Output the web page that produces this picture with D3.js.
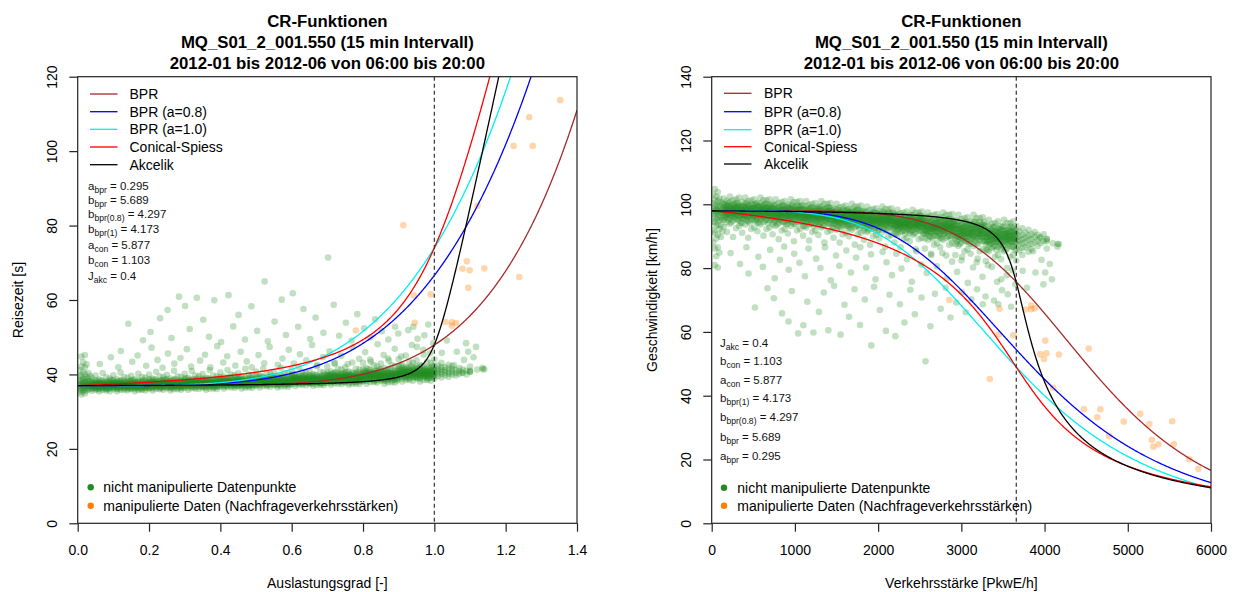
<!DOCTYPE html>
<html>
<head>
<meta charset="utf-8">
<script src="https://cdn.jsdelivr.net/npm/d3@7"></script>
<style>
  html, body { margin: 0; padding: 0; background: #fff; }
  svg { display: block; font-family: "Liberation Sans", Arial, sans-serif; }
</style>
</head>
<body>
<svg id="chart" width="1236" height="592"></svg>
<script>
// ---------------- Titel und Achsen ----------------
const titelZeilen = [
  "CR-Funktionen",
  "MQ_S01_2_001.550 (15 min Intervall)",
  "2012-01 bis 2012-06 von 06:00 bis 20:00"
];
const auslastungTicks = [0, 0.2, 0.4, 0.6, 0.8, 1.0, 1.2, 1.4];
const reisezeitTicks = [0, 20, 40, 60, 80, 100, 120];
const verkehrsstaerkeTicks = [0, 1000, 2000, 3000, 4000, 5000, 6000];
const geschwindigkeitTicks = [0, 20, 40, 60, 80, 100, 120, 140];

// ---------------- Modellparameter ----------------
const aBpr = 0.295, bBpr = 5.689, bBpr08 = 4.297, bBpr1 = 4.173;
const aCon = 5.877, bCon = 1.103, jAkc = 0.4;
const t0 = 37;              // freie Reisezeit [s]
const kapazitaet = 3660;    // [PkwE/h]
const laengeKm = 1.007;     // Abschnittslaenge [km]
const akcT = 0.25;          // Analysedauer [h]
const akcQT = 1340;         // Kapazitaet x Dauer [PkwE]

const kurvenNamen = ["BPR", "BPR (a=0.8)", "BPR (a=1.0)", "Conical-Spiess", "Akcelik"];
const kurvenFarben = ["#a52a2a", "#0000ff", "#00f0f0", "#ff0000", "#000000"];

const parameterZeilen = [
  ["a", "bpr", "0.295"],
  ["b", "bpr", "5.689"],
  ["b", "bpr(0.8)", "4.297"],
  ["b", "bpr(1)", "4.173"],
  ["a", "con", "5.877"],
  ["b", "con", "1.103"],
  ["J", "akc", "0.4"]
];
const punktLegende = ["nicht manipulierte Datenpunkte", "manipulierte Daten (Nachfrageverkehrsstärken)"];
const punktFarben = ["#228b22", "#ff8000"];

// ---------------- Messwerte: Auslastungsgrad [-], Reisezeit [s] ----------------
// dichte Spalten: [Auslastungsgrad, Reisezeiten ...]
const gruenBand = [
  [0.005, 35.2, 36.1, 36.8, 37.4, 38.3, 39.5, 41.2],
  [0.010, 34.6, 35.8, 36.5, 37.0, 37.6, 38.4, 39.8, 42.1, 44.8],
  [0.015, 35.4, 36.3, 36.9, 37.3, 38.0, 38.9, 40.6, 43.3],
  [0.020, 34.9, 35.9, 36.6, 37.1, 37.8, 38.7, 40.1, 41.9, 45.2],
  [0.025, 35.6, 36.4, 37.0, 37.5, 38.2, 39.3, 42.7],
  [0.030, 36.0, 36.7, 37.2, 37.9, 38.8, 40.4],
  [0.035, 36.2, 36.9, 37.3, 38.1, 39.6],
  [0.04, 35.6, 36.2, 36.6, 36.9, 37.2, 37.6, 38.1, 39.0],
  [0.05, 35.9, 36.4, 36.8, 37.1, 37.4, 37.8, 38.4, 39.7],
  [0.06, 35.4, 36.0, 36.5, 36.8, 37.1, 37.5, 37.9, 38.6],
  [0.07, 35.8, 36.3, 36.7, 37.0, 37.3, 37.7, 38.2, 40.4],
  [0.08, 35.7, 36.1, 36.6, 36.9, 37.2, 37.5, 38.0, 39.2],
  [0.09, 35.5, 36.3, 36.6, 37.0, 37.2, 37.7, 38.2, 38.9],
  [0.10, 36.0, 36.5, 36.9, 37.2, 37.5, 37.9, 38.5, 39.8],
  [0.11, 35.5, 36.1, 36.6, 36.9, 37.2, 37.6, 38.0, 38.7],
  [0.12, 35.9, 36.4, 36.8, 37.1, 37.4, 37.8, 38.3, 40.5],
  [0.13, 35.8, 36.2, 36.7, 37.0, 37.3, 37.6, 38.1, 39.3],
  [0.14, 35.7, 36.3, 36.7, 37.0, 37.3, 37.7, 38.2, 39.1],
  [0.15, 36.1, 36.4, 36.9, 37.3, 37.5, 38.0, 38.4, 39.6],
  [0.16, 35.5, 36.1, 36.6, 36.9, 37.2, 37.6, 38.0, 38.7],
  [0.17, 35.8, 36.4, 36.8, 37.1, 37.4, 37.8, 38.4, 40.2],
  [0.18, 35.8, 36.2, 36.7, 37.0, 37.3, 37.6, 38.1, 39.3],
  [0.19, 35.7, 36.3, 36.7, 37.0, 37.3, 37.7, 38.2, 39.1],
  [0.20, 36.2, 36.7, 37.1, 37.4, 37.7, 38.1, 38.7, 40.0],
  [0.21, 35.7, 36.3, 36.8, 37.1, 37.4, 37.8, 38.2, 38.9],
  [0.22, 36.1, 36.6, 37.0, 37.3, 37.6, 38.0, 38.5, 40.7],
  [0.23, 36.0, 36.4, 36.9, 37.2, 37.5, 37.8, 38.3, 39.5],
  [0.24, 35.9, 36.5, 36.9, 37.2, 37.5, 37.9, 38.4, 39.3],
  [0.25, 36.3, 36.6, 37.1, 37.5, 37.7, 38.2, 38.6, 39.9],
  [0.26, 35.7, 36.3, 36.8, 37.1, 37.4, 37.8, 38.2, 38.9],
  [0.27, 36.0, 36.6, 37.0, 37.3, 37.6, 38.0, 38.6, 41.0],
  [0.28, 36.0, 36.4, 36.9, 37.2, 37.5, 37.8, 38.3, 39.5],
  [0.29, 35.9, 36.5, 36.9, 37.2, 37.5, 37.9, 38.4, 39.3],
  [0.30, 36.4, 36.9, 37.3, 37.6, 37.9, 38.3, 38.9, 40.2],
  [0.31, 35.9, 36.5, 37.0, 37.3, 37.6, 38.0, 38.4, 39.1],
  [0.32, 36.3, 36.8, 37.2, 37.5, 37.8, 38.2, 38.7, 40.9],
  [0.33, 36.2, 36.6, 37.1, 37.4, 37.7, 38.0, 38.5, 39.7],
  [0.34, 36.1, 36.7, 37.1, 37.4, 37.7, 38.1, 38.6, 39.5],
  [0.35, 36.5, 36.8, 37.3, 37.7, 37.9, 38.4, 38.8, 40.1],
  [0.36, 35.9, 36.5, 37.0, 37.3, 37.6, 38.0, 38.4, 39.1],
  [0.37, 36.2, 36.8, 37.2, 37.5, 37.8, 38.2, 38.8, 41.2],
  [0.38, 36.2, 36.6, 37.1, 37.4, 37.7, 38.0, 38.5, 39.7],
  [0.39, 36.1, 36.7, 37.1, 37.4, 37.7, 38.1, 38.6, 39.5],
  [0.40, 36.7, 37.2, 37.6, 37.9, 38.2, 38.6, 39.2, 40.5],
  [0.41, 36.2, 36.8, 37.3, 37.6, 37.9, 38.3, 38.7, 39.4],
  [0.42, 36.6, 37.1, 37.5, 37.8, 38.1, 38.5, 39.0, 41.2],
  [0.43, 36.5, 36.9, 37.4, 37.7, 38.0, 38.3, 38.8, 40.0],
  [0.44, 36.4, 37.0, 37.4, 37.7, 38.0, 38.4, 38.9, 39.8],
  [0.45, 36.8, 37.1, 37.6, 38.0, 38.2, 38.7, 39.1, 40.3],
  [0.46, 36.2, 36.8, 37.3, 37.6, 37.9, 38.3, 38.7, 39.4],
  [0.47, 36.5, 37.1, 37.5, 37.8, 38.1, 38.5, 39.1, 41.5],
  [0.48, 36.5, 36.9, 37.4, 37.7, 38.0, 38.3, 38.8, 40.0],
  [0.49, 36.4, 37.0, 37.4, 37.7, 38.0, 38.4, 38.9, 39.8],
  [0.50, 37.0, 37.5, 37.9, 38.2, 38.5, 38.9, 39.5, 40.8],
  [0.51, 36.5, 37.1, 37.6, 37.9, 38.2, 38.6, 39.0, 39.7],
  [0.52, 36.9, 37.4, 37.8, 38.1, 38.4, 38.8, 39.3, 41.5],
  [0.53, 36.8, 37.2, 37.7, 38.0, 38.3, 38.6, 39.1, 40.3],
  [0.54, 36.7, 37.3, 37.7, 38.0, 38.3, 38.7, 39.2, 40.1],
  [0.55, 37.1, 37.4, 37.9, 38.3, 38.5, 39.0, 39.4, 40.6],
  [0.56, 36.5, 37.1, 37.6, 37.9, 38.2, 38.6, 39.0, 39.7],
  [0.57, 36.8, 37.4, 37.8, 38.1, 38.4, 38.8, 39.4, 41.8],
  [0.58, 36.8, 37.2, 37.7, 38.0, 38.3, 38.6, 39.1, 40.3],
  [0.59, 36.7, 37.3, 37.7, 38.0, 38.3, 38.7, 39.2, 40.1],
  [0.60, 37.4, 37.9, 38.3, 38.6, 38.9, 39.3, 39.9, 41.2],
  [0.61, 36.9, 37.5, 38.0, 38.3, 38.6, 39.0, 39.4, 40.1],
  [0.62, 37.3, 37.8, 38.2, 38.5, 38.8, 39.2, 39.7, 41.9],
  [0.63, 37.2, 37.6, 38.1, 38.4, 38.7, 39.0, 39.5, 40.7],
  [0.64, 37.1, 37.7, 38.1, 38.4, 38.7, 39.1, 39.6, 40.5],
  [0.65, 37.5, 37.8, 38.3, 38.7, 38.9, 39.4, 39.8, 41.0],
  [0.66, 36.9, 37.5, 38.0, 38.3, 38.6, 39.0, 39.4, 40.1],
  [0.67, 37.2, 37.8, 38.2, 38.5, 38.8, 39.2, 39.8, 42.2],
  [0.68, 37.2, 37.6, 38.1, 38.4, 38.7, 39.0, 39.5, 40.7],
  [0.69, 37.1, 37.7, 38.1, 38.4, 38.7, 39.1, 39.6, 40.5],
  [0.70, 37.7, 38.3, 38.8, 39.1, 39.5, 39.9, 40.6, 42.1],
  [0.71, 37.2, 37.8, 38.4, 38.8, 39.1, 39.6, 40.0, 40.8],
  [0.72, 37.6, 38.2, 38.7, 39.0, 39.3, 39.8, 40.4, 42.9],
  [0.73, 37.5, 38.0, 38.5, 38.9, 39.2, 39.6, 40.2, 41.5],
  [0.74, 37.4, 38.1, 38.5, 38.9, 39.2, 39.7, 40.3, 41.3],
  [0.75, 37.8, 38.2, 38.8, 39.2, 39.4, 40.0, 40.5, 41.9],
  [0.76, 37.2, 37.8, 38.4, 38.8, 39.1, 39.6, 40.0, 40.8],
  [0.77, 37.5, 38.2, 38.7, 39.0, 39.3, 39.8, 40.5, 43.2],
  [0.78, 37.5, 38.0, 38.5, 38.9, 39.2, 39.6, 40.2, 41.5],
  [0.79, 37.4, 38.1, 38.5, 38.9, 39.2, 39.7, 40.3, 41.3],
  [0.80, 38.2, 38.8, 39.3, 39.7, 40.1, 40.6, 41.4, 43.1],
  [0.81, 37.5, 38.3, 38.9, 39.3, 39.7, 40.3, 40.8, 41.7],
  [0.82, 38.0, 38.7, 39.2, 39.6, 40.0, 40.5, 41.2, 44.0],
  [0.83, 37.9, 38.4, 39.1, 39.5, 39.9, 40.3, 40.9, 42.5],
  [0.84, 37.8, 38.6, 39.1, 39.5, 39.9, 40.4, 41.0, 42.2],
  [0.85, 38.3, 38.7, 39.3, 39.8, 40.0, 40.7, 41.3, 42.9],
  [0.86, 37.5, 38.3, 38.9, 39.3, 39.7, 40.3, 40.8, 41.7],
  [0.87, 37.9, 38.7, 39.2, 39.6, 40.0, 40.5, 41.3, 44.3],
  [0.88, 37.9, 38.4, 39.1, 39.5, 39.9, 40.3, 40.9, 42.5],
  [0.89, 37.8, 38.6, 39.1, 39.5, 39.9, 40.4, 41.0, 42.2],
  [0.90, 38.8, 39.5, 40.0, 40.4, 40.9, 41.4, 42.3, 44.1],
  [0.91, 38.1, 38.9, 39.6, 40.0, 40.4, 41.0, 41.6, 42.5],
  [0.92, 38.6, 39.3, 39.9, 40.3, 40.7, 41.3, 42.0, 45.1],
  [0.93, 38.5, 39.0, 39.7, 40.2, 40.6, 41.0, 41.7, 43.4],
  [0.94, 38.3, 39.2, 39.7, 40.2, 40.6, 41.1, 41.8, 43.1],
  [0.95, 38.9, 39.4, 40.1, 40.5, 40.8, 41.5, 42.2, 43.8],
  [0.96, 38.1, 38.9, 39.6, 40.0, 40.4, 41.0, 41.6, 42.5],
  [0.97, 38.5, 39.4, 39.9, 40.3, 40.7, 41.2, 42.1, 45.3],
  [0.98, 38.5, 39.0, 39.7, 40.2, 40.6, 41.0, 41.7, 43.4],
  [0.99, 38.3, 39.2, 39.7, 40.2, 40.6, 41.1, 41.8, 43.1],
  [1.00, 38.9, 39.5, 40.0, 40.5, 40.9, 41.4, 42.2, 44.0],
  [1.01, 39.6, 40.3, 40.9, 41.5, 42.4],
  [1.02, 39.2, 40.1, 40.7, 41.3, 42.0, 43.1],
  [1.03, 39.8, 40.5, 41.1, 41.9],
  [1.04, 39.4, 40.2, 40.8, 41.6, 42.6],
  [1.05, 40.0, 40.7, 41.4, 42.2],
  [1.06, 39.7, 40.4, 41.2],
  [1.07, 40.1, 40.9, 41.7],
  [1.08, 40.4, 41.3],
  [1.09, 40.0, 41.0],
  [1.10, 40.7, 42.1, 41.0],
  [1.12, 41.3],
  [1.135, 41.8],
  [1.14, 41.4]
];

// Kern des Bandes (zwischen den Spalten)
const gruenKern = [
  [0.045, 36.3, 36.6, 36.9, 37.1, 37.4, 37.8],
  [0.055, 36.1, 36.5, 36.8, 37.2, 37.5, 38.1],
  [0.065, 36.4, 36.7, 37.0, 37.3, 37.6, 38.4],
  [0.075, 36.3, 36.6, 36.9, 37.1, 37.4, 37.8],
  [0.085, 36.1, 36.5, 36.8, 37.2, 37.5, 38.1],
  [0.095, 36.5, 36.8, 37.1, 37.4, 37.7, 38.5],
  [0.105, 36.4, 36.7, 37.0, 37.2, 37.5, 37.9],
  [0.115, 36.2, 36.6, 36.9, 37.3, 37.6, 38.2],
  [0.125, 36.5, 36.8, 37.1, 37.4, 37.7, 38.5],
  [0.135, 36.4, 36.7, 37.0, 37.2, 37.5, 37.9],
  [0.145, 36.2, 36.6, 36.9, 37.3, 37.6, 38.2],
  [0.155, 36.5, 36.8, 37.1, 37.4, 37.7, 38.5],
  [0.165, 36.4, 36.7, 37.0, 37.2, 37.5, 37.9],
  [0.175, 36.2, 36.6, 36.9, 37.3, 37.6, 38.2],
  [0.185, 36.5, 36.8, 37.1, 37.4, 37.7, 38.5],
  [0.195, 36.4, 36.7, 37.0, 37.2, 37.5, 37.9],
  [0.205, 36.4, 36.8, 37.1, 37.5, 37.8, 38.4],
  [0.215, 36.7, 37.0, 37.3, 37.6, 37.9, 38.7],
  [0.225, 36.6, 36.9, 37.2, 37.4, 37.7, 38.1],
  [0.235, 36.4, 36.8, 37.1, 37.5, 37.8, 38.4],
  [0.245, 36.7, 37.0, 37.3, 37.6, 37.9, 38.7],
  [0.255, 36.6, 36.9, 37.2, 37.4, 37.7, 38.1],
  [0.265, 36.4, 36.8, 37.1, 37.5, 37.8, 38.4],
  [0.275, 36.7, 37.0, 37.3, 37.6, 37.9, 38.7],
  [0.285, 36.6, 36.9, 37.2, 37.4, 37.7, 38.1],
  [0.295, 36.4, 36.8, 37.1, 37.5, 37.8, 38.4],
  [0.305, 36.9, 37.2, 37.5, 37.8, 38.1, 38.9],
  [0.315, 36.8, 37.1, 37.4, 37.6, 37.9, 38.3],
  [0.325, 36.6, 37.0, 37.3, 37.7, 38.0, 38.6],
  [0.335, 36.9, 37.2, 37.5, 37.8, 38.1, 38.9],
  [0.345, 36.8, 37.1, 37.4, 37.6, 37.9, 38.3],
  [0.355, 36.6, 37.0, 37.3, 37.7, 38.0, 38.6],
  [0.365, 36.9, 37.2, 37.5, 37.8, 38.1, 38.9],
  [0.375, 36.8, 37.1, 37.4, 37.6, 37.9, 38.3],
  [0.385, 36.6, 37.0, 37.3, 37.7, 38.0, 38.6],
  [0.395, 36.9, 37.2, 37.5, 37.8, 38.1, 38.9],
  [0.405, 37.1, 37.4, 37.7, 37.9, 38.2, 38.6],
  [0.415, 36.9, 37.3, 37.6, 38.0, 38.3, 38.9],
  [0.425, 37.2, 37.5, 37.8, 38.1, 38.4, 39.2],
  [0.435, 37.1, 37.4, 37.7, 37.9, 38.2, 38.6],
  [0.445, 36.9, 37.3, 37.6, 38.0, 38.3, 38.9],
  [0.455, 37.2, 37.5, 37.8, 38.1, 38.4, 39.2],
  [0.465, 37.1, 37.4, 37.7, 37.9, 38.2, 38.6],
  [0.475, 36.9, 37.3, 37.6, 38.0, 38.3, 38.9],
  [0.485, 37.2, 37.5, 37.8, 38.1, 38.4, 39.2],
  [0.495, 37.1, 37.4, 37.7, 37.9, 38.2, 38.6],
  [0.505, 37.2, 37.6, 37.9, 38.3, 38.6, 39.2],
  [0.515, 37.5, 37.8, 38.1, 38.4, 38.7, 39.5],
  [0.525, 37.4, 37.7, 38.0, 38.2, 38.5, 38.9],
  [0.535, 37.2, 37.6, 37.9, 38.3, 38.6, 39.2],
  [0.545, 37.5, 37.8, 38.1, 38.4, 38.7, 39.5],
  [0.555, 37.4, 37.7, 38.0, 38.2, 38.5, 38.9],
  [0.565, 37.2, 37.6, 37.9, 38.3, 38.6, 39.2],
  [0.575, 37.5, 37.8, 38.1, 38.4, 38.7, 39.5],
  [0.585, 37.4, 37.7, 38.0, 38.2, 38.5, 38.9],
  [0.595, 37.2, 37.6, 37.9, 38.3, 38.6, 39.2],
  [0.605, 37.9, 38.2, 38.5, 38.8, 39.1, 39.9],
  [0.615, 37.8, 38.1, 38.4, 38.6, 38.9, 39.3],
  [0.625, 37.6, 38.0, 38.3, 38.7, 39.0, 39.6],
  [0.635, 37.9, 38.2, 38.5, 38.8, 39.1, 39.9],
  [0.645, 37.8, 38.1, 38.4, 38.6, 38.9, 39.3],
  [0.655, 37.6, 38.0, 38.3, 38.7, 39.0, 39.6],
  [0.665, 37.9, 38.2, 38.5, 38.8, 39.1, 39.9],
  [0.675, 37.8, 38.1, 38.4, 38.6, 38.9, 39.3],
  [0.685, 37.6, 38.0, 38.3, 38.7, 39.0, 39.6],
  [0.695, 37.9, 38.2, 38.5, 38.8, 39.1, 39.9],
  [0.705, 38.2, 38.5, 38.9, 39.1, 39.5, 39.9],
  [0.715, 38.0, 38.4, 38.8, 39.2, 39.6, 40.3],
  [0.725, 38.3, 38.7, 39.0, 39.3, 39.7, 40.6],
  [0.735, 38.2, 38.5, 38.9, 39.1, 39.5, 39.9],
  [0.745, 38.0, 38.4, 38.8, 39.2, 39.6, 40.3],
  [0.755, 38.3, 38.7, 39.0, 39.3, 39.7, 40.6],
  [0.765, 38.2, 38.5, 38.9, 39.1, 39.5, 39.9],
  [0.775, 38.0, 38.4, 38.8, 39.2, 39.6, 40.3],
  [0.785, 38.3, 38.7, 39.0, 39.3, 39.7, 40.6],
  [0.795, 38.2, 38.5, 38.9, 39.1, 39.5, 39.9],
  [0.805, 38.4, 38.9, 39.3, 39.9, 40.3, 41.0],
  [0.815, 38.8, 39.2, 39.6, 40.0, 40.4, 41.4],
  [0.825, 38.7, 39.1, 39.5, 39.7, 40.1, 40.6],
  [0.835, 38.4, 38.9, 39.3, 39.9, 40.3, 41.0],
  [0.845, 38.8, 39.2, 39.6, 40.0, 40.4, 41.4],
  [0.855, 38.7, 39.1, 39.5, 39.7, 40.1, 40.6],
  [0.865, 38.4, 38.9, 39.3, 39.9, 40.3, 41.0],
  [0.875, 38.8, 39.2, 39.6, 40.0, 40.4, 41.4],
  [0.885, 38.7, 39.1, 39.5, 39.7, 40.1, 40.6],
  [0.895, 38.4, 38.9, 39.3, 39.9, 40.3, 41.0],
  [0.905, 39.5, 39.9, 40.3, 40.7, 41.1, 42.3],
  [0.915, 39.3, 39.7, 40.2, 40.4, 40.9, 41.4],
  [0.925, 39.0, 39.6, 40.0, 40.6, 41.0, 41.8],
  [0.935, 39.5, 39.9, 40.3, 40.7, 41.1, 42.3],
  [0.945, 39.3, 39.7, 40.2, 40.4, 40.9, 41.4],
  [0.955, 39.0, 39.6, 40.0, 40.6, 41.0, 41.8],
  [0.965, 39.5, 39.9, 40.3, 40.7, 41.1, 42.3],
  [0.975, 39.3, 39.7, 40.2, 40.4, 40.9, 41.4],
  [0.985, 39.0, 39.6, 40.0, 40.6, 41.0, 41.8],
  [0.995, 39.5, 39.9, 40.3, 40.7, 41.1, 42.3]
];

// einzelne Streupunkte: [Auslastungsgrad, Reisezeit]
const gruenStreu = [
  [0.062, 42.8], [0.093, 44.6], [0.114, 41.9], [0.121, 46.3], [0.153, 43.4], [0.168, 45.1],
  [0.192, 42.3], [0.207, 47.2], [0.224, 43.9], [0.238, 41.8], [0.253, 45.6], [0.271, 42.9],
  [0.288, 44.4], [0.306, 46.8], [0.318, 42.1], [0.343, 43.7], [0.357, 45.3], [0.372, 41.9],
  [0.391, 47.6], [0.408, 43.2], [0.419, 44.9], [0.442, 42.4], [0.457, 46.1], [0.474, 43.5],
  [0.488, 41.9], [0.507, 45.2], [0.523, 43.0], [0.538, 47.4], [0.561, 42.6], [0.574, 44.3],
  [0.592, 46.6], [0.606, 42.9], [0.623, 45.4], [0.641, 43.8], [0.657, 47.9], [0.672, 42.5],
  [0.688, 44.7], [0.706, 46.2], [0.721, 43.1], [0.739, 45.0], [0.757, 42.8], [0.771, 47.3],
  [0.789, 44.2], [0.806, 46.0], [0.822, 43.4], [0.841, 48.1], [0.858, 45.2], [0.873, 43.7],
  [0.889, 46.9], [0.907, 44.8], [0.937, 47.9], [0.951, 47.4], [0.969, 46.6], [0.988, 45.7],
  [0.997, 48.4], [1.021, 45.8], [1.035, 49.1], [1.063, 46.1], [1.089, 48.4], [1.095, 46.1],
  [1.117, 47.4], [1.077, 40.5], [1.100, 40.7], [1.136, 41.4], [1.055, 42.5], [1.083, 43.9],
  [1.110, 44.6],
  [0.142, 53.6], [0.183, 49.2], [0.204, 51.4], [0.231, 55.1], [0.252, 57.3], [0.263, 49.8],
  [0.284, 60.9], [0.301, 58.4], [0.314, 52.2], [0.334, 60.6], [0.352, 54.7], [0.368, 50.1],
  [0.383, 59.9], [0.402, 48.7], [0.423, 61.3], [0.436, 52.9], [0.451, 56.0], [0.469, 49.4],
  [0.487, 58.3], [0.503, 51.7], [0.524, 65.0], [0.533, 48.9], [0.552, 54.2], [0.572, 60.1],
  [0.584, 50.6], [0.603, 61.8], [0.618, 52.8], [0.633, 57.6], [0.652, 49.5], [0.667, 55.3],
  [0.689, 51.2], [0.702, 71.4], [0.718, 58.7], [0.733, 50.4], [0.752, 53.9], [0.768, 49.1],
  [0.784, 56.2], [0.803, 52.4], [0.821, 50.0], [0.834, 54.8], [0.853, 51.6], [0.871, 49.4],
  [0.890, 52.8], [0.899, 51.0], [0.927, 51.9], [0.941, 52.8], [0.953, 49.6], [0.972, 50.5],
  [0.983, 53.4]
];

// manipulierte Daten (Nachfrageverkehrsstaerken): [Auslastungsgrad, Reisezeit]
const orangePunkte = [
  [0.780, 51.8], [0.913, 80.1], [0.943, 61.2], [0.945, 53.9], [0.990, 61.5],
  [1.031, 54.1], [1.049, 54.0], [1.061, 53.8], [1.049, 53.1], [1.079, 68.4],
  [1.091, 70.4], [1.095, 63.3], [1.099, 68.0], [1.121, 85.3], [1.140, 68.5],
  [1.222, 101.4], [1.238, 66.2], [1.266, 109.1], [1.276, 101.4], [1.305, 132.3],
  [1.353, 113.7], [1.407, 105.7], [1.437, 116.6], [1.445, 138.9], [1.450, 151.1],
  [1.467, 146.2], [1.512, 113.3], [1.517, 146.2], [1.568, 180.4], [1.598, 212.0]
];

// ---------------- Kapazitaets-Restriktions-Funktionen ----------------
const crFunktionen = [
  x => t0 * (1 + aBpr * Math.pow(x, bBpr)),
  x => t0 * (1 + 0.8 * Math.pow(x, bBpr08)),
  x => t0 * (1 + 1.0 * Math.pow(x, bBpr1)),
  x => t0 * (2 + Math.sqrt(aCon * aCon * (1 - x) * (1 - x) + bCon * bCon) - aCon * (1 - x) - bCon),
  x => t0 + 900 * akcT * ((x - 1) + Math.sqrt((x - 1) * (x - 1) + 8 * jAkc * x / akcQT))
];

// ---------------- Zeichnen ----------------
const svg = d3.select("#chart");
const alleGruen = [];
[gruenBand, gruenKern].forEach(tab => tab.forEach(r => {
  for (let i = 1; i < r.length; i++) alleGruen.push([r[0], r[i]]);
}));
gruenStreu.forEach(p => alleGruen.push(p));

const panels = [
  {
    id: "links", x0: 77.7, x1: 577, xDomain: [0, 1.4], yDomain: [0, 120],
    xTicks: auslastungTicks, yTicks: reisezeitTicks, xFmt: d3.format(".1f"), yFmt: d3.format("d"),
    xTitel: "Auslastungsgrad [-]", yTitel: "Reisezeit [s]",
    px: p => p[0], py: p => p[1],
    kurveX: d3.range(0, 1.4001, 0.002), kurveY: (f, x) => f(x),
    grenze: 1.0,
    legende: { lx: 90, tx: 129.5, rows: [94, 111.7, 129.3, 147, 164.7] },
    param: { x: 88, reihenfolge: [0, 1, 2, 3, 4, 5, 6], rows: [185.7, 199.6, 214.2, 229.3, 245, 260.2, 275.7] },
    punktLeg: { dx: 90.7, tx: 103.3, rows: [487.3, 505.7] }
  },
  {
    id: "rechts", x0: 711.7, x1: 1211, xDomain: [0, 6000], yDomain: [0, 140],
    xTicks: verkehrsstaerkeTicks, yTicks: geschwindigkeitTicks, xFmt: d3.format("d"), yFmt: d3.format("d"),
    xTitel: "Verkehrsstärke [PkwE/h]", yTitel: "Geschwindigkeit [km/h]",
    px: p => p[0] * kapazitaet, py: p => laengeKm * 3600 / p[1],
    kurveX: d3.range(0, 6000.1, 6), kurveY: (f, q) => laengeKm * 3600 / f(q / kapazitaet),
    grenze: kapazitaet,
    legende: { lx: 724, tx: 764, rows: [93.3, 111.7, 129.7, 146.7, 164] },
    param: { x: 720, reihenfolge: [6, 5, 4, 3, 2, 1, 0], rows: [342.7, 360.7, 380, 397.5, 416.7, 436.7, 455.7] },
    punktLeg: { dx: 724, tx: 737.3, rows: [487.7, 505.7] }
  }
];

const yTop = 76.7, yBottom = 523.3;

panels.forEach(P => {
  const g = svg.append("g");
  const x = d3.scaleLinear().domain(P.xDomain).range([P.x0, P.x1]);
  const y = d3.scaleLinear().domain(P.yDomain).range([yBottom, yTop]);
  const mitte = (P.x0 + P.x1) / 2;

  // Titel
  titelZeilen.forEach((t, i) => {
    g.append("text").attr("x", mitte).attr("y", 27.3 + i * 20.7)
      .attr("text-anchor", "middle").attr("font-size", 16.8).attr("font-weight", "bold")
      .attr("fill", "#000").text(t);
  });

  const clipId = "clip-" + P.id;
  svg.append("clipPath").attr("id", clipId).append("rect")
    .attr("x", P.x0).attr("y", yTop).attr("width", P.x1 - P.x0).attr("height", yBottom - yTop);
  const plot = g.append("g").attr("clip-path", `url(#${clipId})`);

  // Messpunkte
  plot.append("g").selectAll("circle").data(alleGruen).join("circle")
    .attr("cx", d => x(P.px(d))).attr("cy", d => y(P.py(d))).attr("r", 3.3)
    .attr("fill", punktFarben[0]).attr("fill-opacity", 0.28);
  plot.append("g").selectAll("circle").data(orangePunkte).join("circle")
    .attr("cx", d => x(P.px(d))).attr("cy", d => y(P.py(d))).attr("r", 3.3)
    .attr("fill", punktFarben[1]).attr("fill-opacity", 0.33);

  // Kurven
  crFunktionen.forEach((f, i) => {
    const pts = P.kurveX.map(v => [v, P.kurveY(f, v)]).filter(p => isFinite(p[1]));
    const line = d3.line().x(p => x(p[0])).y(p => y(Math.max(-50, Math.min(400, p[1]))));
    plot.append("path").attr("d", line(pts)).attr("fill", "none")
      .attr("stroke", kurvenFarben[i]).attr("stroke-width", 1.3);
  });

  // Kapazitaetsgrenze
  g.append("line").attr("x1", x(P.grenze)).attr("x2", x(P.grenze))
    .attr("y1", yTop).attr("y2", yBottom)
    .attr("stroke", "#333").attr("stroke-width", 1.2).attr("stroke-dasharray", "4,3");

  // Rahmen
  g.append("rect").attr("x", P.x0).attr("y", yTop).attr("width", P.x1 - P.x0).attr("height", yBottom - yTop)
    .attr("fill", "none").attr("stroke", "#222").attr("stroke-width", 1.2);

  // Achsen
  const xAxis = d3.axisBottom(x).tickValues(P.xTicks).tickFormat(P.xFmt).tickSize(8.4).tickPadding(13);
  const gx = g.append("g").attr("transform", `translate(0,${yBottom})`).call(xAxis);
  gx.select(".domain").remove();
  gx.selectAll(".tick line").attr("stroke", "#222").attr("stroke-width", 1.2);
  gx.selectAll(".tick text").attr("font-size", 14).attr("fill", "#000")
    .attr("font-family", "Liberation Sans, Arial, sans-serif");

  const yAxis = d3.axisLeft(y).tickValues(P.yTicks).tickFormat(P.yFmt).tickSize(8.4);
  const gy = g.append("g").attr("transform", `translate(${P.x0},0)`).call(yAxis);
  gy.select(".domain").remove();
  gy.selectAll(".tick line").attr("stroke", "#222").attr("stroke-width", 1.2);
  gy.selectAll(".tick text")
    .attr("font-size", 14).attr("fill", "#000").attr("font-family", "Liberation Sans, Arial, sans-serif")
    .attr("x", 0).attr("dy", 0).attr("text-anchor", "middle")
    .attr("transform", "translate(-20.7,0) rotate(-90)");

  // Achsentitel
  g.append("text").attr("x", mitte).attr("y", 588).attr("text-anchor", "middle")
    .attr("font-size", 14).text(P.xTitel);
  g.append("text").attr("transform", `translate(${P.x0 - 55},${(yTop + yBottom) / 2}) rotate(-90)`)
    .attr("text-anchor", "middle").attr("font-size", 14).text(P.yTitel);

  // Legende Kurven
  kurvenNamen.forEach((n, i) => {
    const ry = P.legende.rows[i];
    g.append("line").attr("x1", P.legende.lx).attr("x2", P.legende.lx + 27.5)
      .attr("y1", ry).attr("y2", ry).attr("stroke", kurvenFarben[i]).attr("stroke-width", 1.3);
    g.append("text").attr("x", P.legende.tx).attr("y", ry + 5).attr("font-size", 14).text(n);
  });

  // Parameter
  P.param.reihenfolge.forEach((k, i) => {
    const [basis, index, wert] = parameterZeilen[k];
    const t = g.append("text").attr("x", P.param.x).attr("y", P.param.rows[i] + 4)
      .attr("font-size", 11.5).attr("fill", "#111");
    t.append("tspan").text(basis);
    t.append("tspan").attr("font-size", 8.6).attr("dy", 3).text(index);
    t.append("tspan").attr("dy", -3).text(" = " + wert);
  });

  // Legende Punkte
  punktLegende.forEach((n, i) => {
    const ry = P.punktLeg.rows[i];
    g.append("circle").attr("cx", P.punktLeg.dx).attr("cy", ry).attr("r", 3.2).attr("fill", punktFarben[i]);
    g.append("text").attr("x", P.punktLeg.tx).attr("y", ry + 5).attr("font-size", 14).text(n);
  });
});
</script>
</body>
</html>
